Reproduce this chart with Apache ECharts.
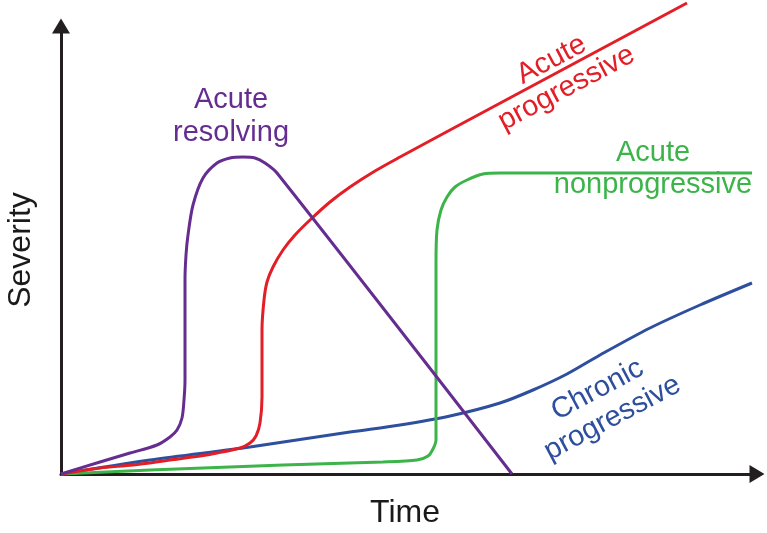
<!DOCTYPE html>
<html>
<head>
<meta charset="utf-8">
<script src="https://cdn.jsdelivr.net/npm/echarts@6/dist/echarts.min.js"></script>
<style>html,body{margin:0;padding:0;background:#fff;}#c{width:767px;height:533px;}</style>
</head>
<body>
<div id="c"></div>
<script>
// Conceptual curves (x: time units, y: severity units)
const purpleX = [0, 39, 69, 96, 109, 116, 121, 123, 124, 124, 124, 125, 127, 132, 142, 156, 169, 182, 194, 204, 216, 451];
const purpleY = [0, 12, 21, 29, 37, 44, 56, 74, 94, 144, 194, 219, 239, 269, 296, 311, 316, 317, 316, 311, 301, 0];

const redX = [0, 39, 72, 109, 139, 156, 179, 189, 195, 199, 201, 201, 201, 203, 206, 212, 222, 234, 249, 269, 289, 314, 339, 389, 626];
const redY = [0, 6, 9, 14, 18, 21, 26, 31, 38, 51, 77, 114, 144, 174, 192, 207, 224, 239, 254, 272, 287, 303, 317, 344, 471];

const greenX = [0, 89, 222, 322, 356, 367, 372, 375, 375, 375, 375, 376, 380, 386, 394, 406, 422, 439, 691];
const greenY = [0, 4, 9, 12, 14, 18, 25, 34, 61, 144, 211, 244, 264, 277, 287, 294, 300, 301, 301];

const blueX = [0, 89, 189, 289, 339, 389, 439, 472, 506, 539, 589, 639, 691];
const blueY = [0, 14, 27, 42, 49, 58, 71, 84, 100, 119, 146, 169, 191];

const labels = {
  resolving: 'Acute\nresolving',
  progressive: 'Acute\nprogressive',
  nonprogressive: 'Acute\nnonprogressive',
  chronic: 'Chronic\nprogressive'
};
const xName = 'Time';
const yName = 'Severity';

const colors = { purple: '#662d91', red: '#e41e26', green: '#3cb44a', blue: '#2e4f9e', axis: '#231f20' };
const FONT = "'Liberation Sans', Arial, sans-serif";

function pairs(xs, ys) { return xs.map((x, i) => [x, ys[i]]); }
function lineSeries(xs, ys, color) {
  return {
    type: 'line', data: pairs(xs, ys), showSymbol: false, smooth: 0.3, clip: false,
    lineStyle: { color: color, width: 3 }, silent: true, animation: false
  };
}

const chart = echarts.init(document.getElementById('c'), null, { renderer: 'canvas' });
const deg = Math.PI / 180;
chart.setOption({
  animation: false,
  backgroundColor: '#ffffff',
  grid: { left: 61, top: 26, right: 10, bottom: 59, containLabel: false },
  xAxis: {
    type: 'value', min: 0, max: 696,
    axisLine: { lineStyle: { color: colors.axis, width: 3 }, symbol: ['none', 'triangle'], symbolSize: [18, 15] },
    axisTick: { show: false }, axisLabel: { show: false }, splitLine: { show: false }
  },
  yAxis: {
    type: 'value', min: 0, max: 448,
    axisLine: { show: true, lineStyle: { color: colors.axis, width: 3 }, symbol: ['none', 'triangle'], symbolSize: [18, 15] },
    axisTick: { show: false }, axisLabel: { show: false }, splitLine: { show: false }
  },
  series: [
    lineSeries(blueX, blueY, colors.blue),
    lineSeries(greenX, greenY, colors.green),
    lineSeries(redX, redY, colors.red),
    lineSeries(purpleX, purpleY, colors.purple)
  ],
  graphic: [
    { type: 'text', x: 231, y: 116, style: { text: labels.resolving, fill: colors.purple, font: '29px ' + FONT, lineHeight: 33, textAlign: 'center', textVerticalAlign: 'middle' } },
    { type: 'text', x: 653, y: 169, style: { text: labels.nonprogressive, fill: colors.green, font: '29px ' + FONT, lineHeight: 32, textAlign: 'center', textVerticalAlign: 'middle' } },
    { type: 'text', x: 559, y: 74, rotation: 28 * deg, style: { text: labels.progressive, fill: colors.red, font: '29px ' + FONT, lineHeight: 32, textAlign: 'center', textVerticalAlign: 'middle' } },
    { type: 'text', x: 605, y: 404, rotation: 28 * deg, style: { text: labels.chronic, fill: colors.blue, font: '29px ' + FONT, lineHeight: 32, textAlign: 'center', textVerticalAlign: 'middle' } },
    { type: 'text', x: 405, y: 513, style: { text: xName, fill: '#1a1a1a', font: '32px ' + FONT, textAlign: 'center', textVerticalAlign: 'middle' } },
    { type: 'text', x: 21, y: 250, rotation: 90 * deg, style: { text: yName, fill: '#1a1a1a', font: '32px ' + FONT, textAlign: 'center', textVerticalAlign: 'middle' } }
  ]
});
</script>
</body>
</html>
